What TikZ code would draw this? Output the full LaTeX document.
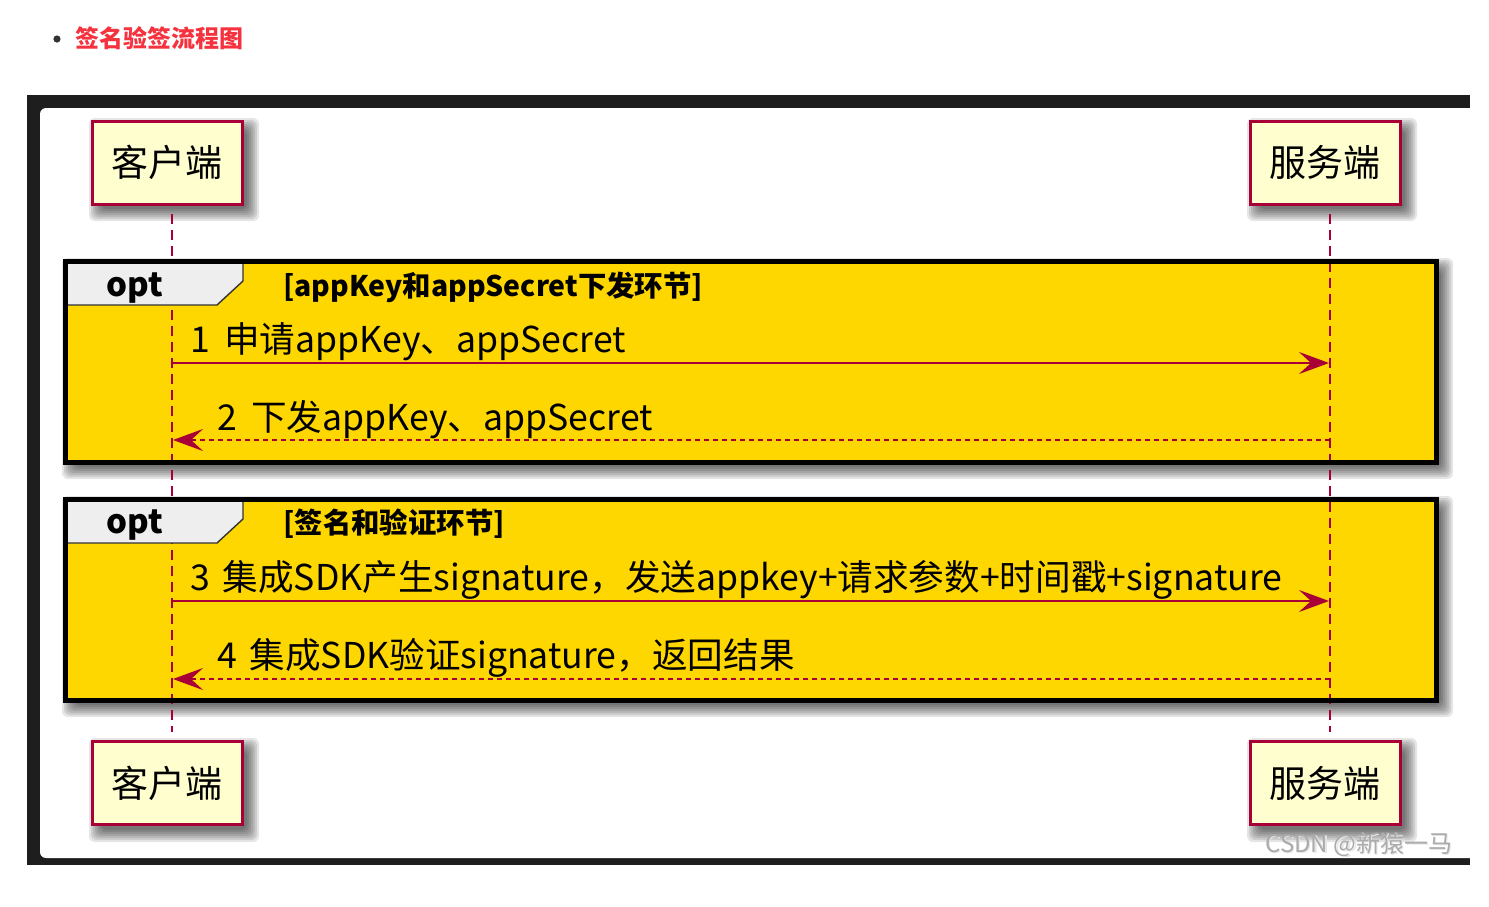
\documentclass[tikz,border=0pt]{standalone}
\usepackage{fontspec}
\setmainfont{Noto Sans CJK SC}
\usetikzlibrary{arrows.meta}
\definecolor{crim}{HTML}{A80036}
\definecolor{pfill}{HTML}{FEFECE}
\definecolor{gold}{HTML}{FFD700}
\definecolor{tabgrey}{HTML}{EEEEEE}
\definecolor{framedark}{HTML}{1E1E1E}
\definecolor{titlered}{HTML}{F5333F}
\definecolor{wmgrey}{HTML}{ABABAB}
\newcommand{\softshadow}[4]{%
  \foreach \e in {10,8,6,4,2,0,-2}{%
    \fill[black, opacity=0.1, rounded corners=3pt] (#1+7-\e,#2+7-\e) rectangle (#3+7+\e,#4+7+\e);}}
\begin{document}
\begin{tikzpicture}[x=0.5pt,y=-0.5pt,
  part/.style={draw=crim, line width=1.5pt, fill=pfill, minimum width=75pt, minimum height=41.5pt, inner sep=0pt,
    font=\fontsize{18.5}{20}\selectfont},
  lifeline/.style={draw=crim, line width=1.2pt, dash pattern=on 5pt off 3pt},
  optframe/.style={fill=gold},
  optborder/.style={draw=black, line width=2.5pt},
  opttab/.style={fill=tabgrey, draw=black!80, line width=0.7pt},
  opttext/.style={font=\fontsize{16.5}{18}\selectfont\bfseries, inner sep=0pt, anchor=base west},
  guardtext/.style={font=\fontsize{14.2}{16}\selectfont\bfseries, inner sep=0pt, anchor=base west},
  msgtext/.style={font=\fontsize{17.8}{20}\selectfont, inner sep=0pt, anchor=base west},
  syncmsg/.style={draw=crim, line width=1.1pt, -{Stealth[length=15pt, width=11pt, inset=6pt]}},
  retmsg/.style={draw=crim, line width=1.1pt, dash pattern=on 2.5pt off 2pt, -{Stealth[length=15pt, width=11pt, inset=6pt]}}
]
\useasboundingbox (0,0) rectangle (1489,906);

% page title
\node[circle, fill=black!80, inner sep=0pt, minimum size=3.6pt] (bullet) at (57,39) {};
\node[font=\fontsize{12}{14}\selectfont\bfseries, text=titlered, inner sep=0pt, anchor=base west] (title) at (75,47) {签名验签流程图};

% screenshot frame
\fill[framedark] (27,95) rectangle (1470,865);
\fill[white, rounded corners=3pt] (40,108) rectangle (1490,858);

% shadows
\softshadow{92}{121}{242}{204}
\softshadow{1250}{121}{1400}{204}
\softshadow{92}{741}{242}{825}
\softshadow{1250}{741}{1400}{825}
\softshadow{65}{261}{1436}{462}
\softshadow{65}{499}{1436}{700}

% participants
\node[part] (ctop) at (167,162.5) {客户端};
\node[part] (stop) at (1325,162.5) {服务端};
\node[part] (cbot) at (167,783) {客户端};
\node[part] (sbot) at (1325,783) {服务端};

\coordinate (lctop) at (172,214);
\coordinate (lcbot) at (172,732);
\coordinate (lstop) at (1330,214);
\coordinate (lsbot) at (1330,732);

% frame fills
\path[optframe] (65,261) rectangle (1436,462);
\path[optframe] (65,499) rectangle (1436,700);

% lifelines
\draw[lifeline] (lctop) -- (lcbot);
\draw[lifeline] (lstop) -- (lsbot);

% tabs and borders
\draw[opttab] (65,261) -- (243,261) -- (243,281) -- (217,305) -- (65,305) -- cycle;
\draw[opttab] (65,499) -- (243,499) -- (243,519) -- (217,543) -- (65,543) -- cycle;
\draw[optborder] (65,261) rectangle (1436,462);
\draw[optborder] (65,499) rectangle (1436,700);

\node[opttext] (opt1) at (106,296) {opt};
\node[guardtext] (g1) at (283,296) {[appKey和appSecret下发环节]};
\node[opttext] (opt2) at (106,533) {opt};
\node[guardtext] (g2) at (283,533) {[签名和验证环节]};

% messages
\coordinate (m1a) at (172,363); \coordinate (m1b) at (1329,363);
\coordinate (m2a) at (1330,440); \coordinate (m2b) at (173,440);
\coordinate (m3a) at (172,601); \coordinate (m3b) at (1329,601);
\coordinate (m4a) at (1330,679); \coordinate (m4b) at (173,679);

\draw[syncmsg] (m1a) -- (m1b);
\draw[retmsg] (m2a) -- (m2b);
\draw[syncmsg] (m3a) -- (m3b);
\draw[retmsg] (m4a) -- (m4b);

\node[msgtext] (t1) at (190,352) {1\hspace{0.4em}申请appKey、appSecret};
\node[msgtext] (t2) at (217,430) {2\hspace{0.4em}下发appKey、appSecret};
\node[msgtext] (t3) at (190,590) {3\hspace{0.35em}集成SDK产生signature，发送appkey+请求参数+时间戳+signature};
\node[msgtext] (t4) at (217,668) {4\hspace{0.35em}集成SDK验证signature，返回结果};

% watermark
\node[font=\fontsize{12}{14}\selectfont, text=black!10, inner sep=0pt, anchor=base west] (wms) at (1266.5,853.5) {CSDN @新猿一马};
\node[font=\fontsize{12}{14}\selectfont, text=wmgrey, inner sep=0pt, anchor=base west] (wm) at (1265,852) {CSDN @新猿一马};
\end{tikzpicture}
\end{document}
